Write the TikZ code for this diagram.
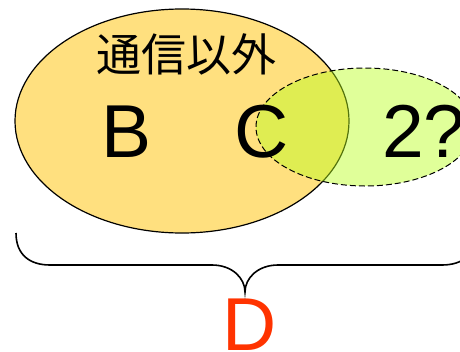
\documentclass[tikz,border=0pt]{standalone}
\usepackage{fontspec}
\setmainfont{Liberation Sans}
\newfontfamily\cjk{Noto Sans CJK JP}
\definecolor{orangefill}{RGB}{255,224,127}
\definecolor{greenfill}{RGB}{186,255,29}
\definecolor{dred}{RGB}{255,51,0}
\tikzset{
  bigletter/.style={font=\fontsize{75}{75}\selectfont, anchor=base, inner sep=0pt},
  setA/.style={draw=black, line width=1.2pt, fill=orangefill},
  setB/.style={draw=black, line width=1pt, dashed, dash pattern=on 6pt off 3pt, fill=greenfill, fill opacity=0.45, draw opacity=1},
  bracestyle/.style={draw=black, line width=1.6pt}
}
\begin{document}
\begin{tikzpicture}[x=1pt,y=-1pt]
\useasboundingbox (0,0) rectangle (460,351);
\clip (0,0) rectangle (460,351);
\path[setA] (182,121) ellipse [x radius=167, y radius=112];
\path[setB] (365,127) ellipse [x radius=109, y radius=59];
\node[font=\cjk\fontsize{45}{45}\selectfont, inner sep=0pt] (t) at (186,54) {通信以外};
\node[bigletter] (b) at (127,157) {B};
\node[bigletter] (c) at (262,157) {C};
\node[bigletter, anchor=base west] (q) at (382,157) {2?};
\node[bigletter, text=dred] (d) at (250,350) {D};
\coordinate (bl) at (16,233);
\coordinate (br) at (476,233);
\coordinate (tip) at (245,292);
\path[bracestyle] (bl) .. controls (16,255) and (30,265) .. (50,265) -- (212,265)
  .. controls (232,265) and (245,278) .. (tip)
  .. controls (245,278) and (258,265) .. (278,265) -- (442,265)
  .. controls (462,265) and (476,255) .. (br);
\end{tikzpicture}
\end{document}
